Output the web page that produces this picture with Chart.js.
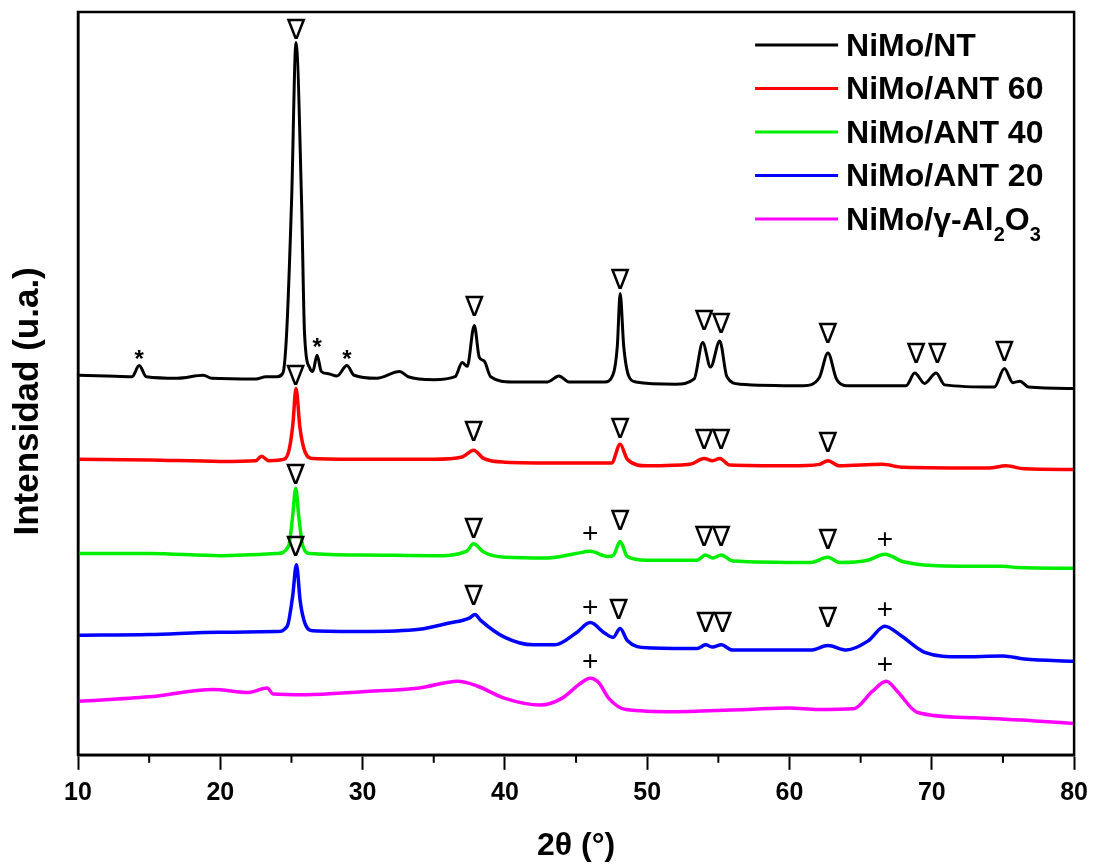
<!DOCTYPE html>
<html>
<head>
<meta charset="utf-8">
<script src="https://cdn.jsdelivr.net/npm/chart.js@4.4.1/dist/chart.umd.min.js"></script>
<style>
  html, body { margin: 0; padding: 0; background: #fff; }
  #wrap { width: 1096px; height: 864px; }
</style>
</head>
<body>
<div id="wrap"><canvas id="myChart"></canvas></div>
<script>
// XRD patterns, [2theta, intensity] (curves already offset vertically)
var serieNT = [[10,51.1],[12,51.0],[13.8,50.9],[14.3,52.4],[14.8,50.9],[17,50.7],[18.8,51.1],[19.4,50.7],[22.5,50.6],[23.2,50.9],[24.0,50.9],[24.4,51.4],[24.66,56.7],[25.01,74.6],[25.32,95.9],[25.71,74.6],[25.92,56.7],[26.3,52.0],[26.5,51.6],[26.8,53.8],[27.1,51.6],[27.6,51.3],[28.2,51.0],[28.9,52.4],[29.4,51.1],[31,50.7],[32.6,51.6],[33.2,50.9],[35,50.5],[36.5,50.9],[37.0,52.8],[37.35,52.3],[37.85,57.8],[38.2,53.5],[38.55,53.0],[39.0,50.9],[40.5,50.2],[43.0,50.2],[43.8,51.0],[44.5,50.2],[47.0,50.2],[47.6,51.2],[47.9,55.0],[48.1,62.1],[48.35,55.0],[48.7,51.0],[49.2,50.2],[52.0,49.9],[53.3,50.6],[53.9,55.5],[54.45,52.2],[55.1,55.7],[55.6,50.9],[56.5,49.9],[61.0,49.7],[62.1,50.8],[62.7,54.1],[63.3,50.6],[64.0,49.7],[68.2,49.7],[68.8,51.4],[69.5,50.0],[70.3,51.4],[70.9,49.8],[74.4,49.5],[75.1,52.0],[75.7,50.1],[76.2,50.3],[76.8,49.5],[80,49.3]];
var serieANT60 = [[10,39.8],[15,39.7],[20,39.5],[22.5,39.6],[22.9,40.2],[23.4,39.6],[24.5,39.8],[24.85,41.2],[25.1,44.5],[25.32,49.3],[25.6,44.0],[25.95,40.8],[26.5,39.9],[30,39.8],[35,39.8],[37.0,40.1],[37.8,41.0],[38.5,39.9],[40,39.4],[44,39.3],[47.5,39.3],[48.1,41.8],[48.6,39.8],[50,38.9],[53,39.1],[54.0,39.9],[54.6,39.6],[55.1,39.9],[55.8,39.0],[60,38.9],[62.1,39.1],[62.7,39.6],[63.5,38.9],[66.5,39.1],[68,38.7],[74,38.6],[75.2,38.9],[76.5,38.5],[80,38.4]];
var serieANT40 = [[10,27.1],[15,27.1],[20,26.8],[24,27.1],[24.8,28.1],[25.08,32.0],[25.3,35.9],[25.52,32.0],[25.8,28.1],[26.3,27.1],[30,26.9],[35,26.8],[37.3,27.4],[37.8,28.4],[38.5,27.3],[40,26.6],[43,26.5],[45,27.1],[46,27.4],[47.2,26.7],[47.6,26.8],[48.1,28.7],[48.6,26.7],[50,26.2],[53.5,26.2],[54.1,26.9],[54.6,26.5],[55.2,26.9],[56,26.1],[61.5,25.9],[62.7,26.6],[63.5,25.9],[65.5,26.2],[66.7,27.0],[68,26.0],[72,25.4],[75,25.4],[76,25.2],[80,25.1]];
var serieANT20 = [[10,16.1],[15,16.2],[20,16.5],[24,16.6],[24.7,17.3],[25.08,21.3],[25.35,25.6],[25.62,20.6],[25.95,17.7],[26.5,16.7],[30,16.6],[34,16.9],[36,17.7],[37.5,18.4],[37.9,18.9],[38.3,18.1],[40,15.8],[42,14.8],[43.5,14.8],[45,16.4],[46,17.8],[47,16.4],[47.6,15.8],[48.1,17.0],[48.6,15.4],[50,14.4],[53.5,14.3],[54.1,14.8],[54.6,14.5],[55.2,14.8],[56,14.1],[61.5,14.1],[62.7,14.7],[64,14.1],[65.5,15.3],[66.7,17.3],[67.8,16.1],[69.5,13.8],[72,13.2],[75,13.3],[76.5,12.9],[80,12.6]];
var serieAl2O3 = [[10,7.2],[15,7.8],[19.5,8.8],[22,8.4],[23.3,9.0],[23.7,8.2],[26,8.1],[30,8.5],[34,9.0],[36.7,9.9],[38,9.3],[40,7.6],[42.5,6.7],[44,7.6],[45.3,9.6],[46.0,10.3],[46.6,9.7],[47.3,7.6],[48.5,6.1],[52,5.8],[57,6.1],[60,6.3],[62,6.1],[64.5,6.2],[65.8,8.5],[66.8,9.9],[67.6,8.5],[69,5.7],[73,5.0],[77,4.6],[80,4.2]];

var labels = ["NiMo/NT", "NiMo/ANT 60", "NiMo/ANT 40", "NiMo/ANT 20", "NiMo/γ-Al2O3"];
var colores = ["#000000", "#ff0000", "#00ee00", "#0000ff", "#ff00ff"];

// peak markers
var marcaTri = [[25.32,97.3],[37.85,60.1],[48.1,63.7],[54.0,58.2],[55.2,57.8],[62.7,56.4],[68.9,53.7],[70.4,53.7],[75.1,54.0],
  [25.3,50.8],[37.8,43.2],[48.1,43.6],[54.0,42.1],[55.2,42.1],[62.7,41.8],
  [25.3,37.5],[37.8,30.1],[48.1,31.2],[54.0,29.1],[55.2,29.1],[62.7,28.7],
  [25.3,27.8],[37.8,21.1],[48.0,19.3],[54.1,17.5],[55.3,17.5],[62.7,18.2]];
var marcaStar = [[14.3,53.7],[26.8,55.3],[28.9,53.7]];
var marcaPlus = [[46,29.7],[66.7,28.9],[46,19.7],[66.7,19.4],[46,12.4],[66.7,12.0]];

var xTicksMenores = [15, 25, 35, 45, 55, 65, 75];

function toXY(arr) {
    return arr.map(function (p) { return { x: p[0], y: p[1] }; });
}

var series = [serieNT, serieANT60, serieANT40, serieANT20, serieAl2O3];
var datasets = series.map(function (s, i) {
    return {
        label: labels[i],
        data: toXY(s),
        borderColor: colores[i],
        borderWidth: i == 0 ? 3 : 3.5,
        pointRadius: 0,
        fill: false,
        cubicInterpolationMode: 'monotone'
    };
});

var FONT = "'Liberation Sans', Arial, sans-serif";

var marcasPlugin = {
    id: 'marcas',
    afterDatasetsDraw: function (chart) {
        var c = chart.ctx, xs = chart.scales.x, ys = chart.scales.y, a = chart.chartArea;
        c.save();
        c.fillStyle = '#000';
        c.textAlign = 'center';
        c.textBaseline = 'middle';
        c.font = "28px 'DejaVu Sans'";
        marcaTri.forEach(function (p) {
            c.fillText('∇', xs.getPixelForValue(p[0]), ys.getPixelForValue(p[1]));
        });
        c.font = "bold 24px " + FONT;
        marcaStar.forEach(function (p) {
            c.fillText('*', xs.getPixelForValue(p[0]), ys.getPixelForValue(p[1]) + 4);
        });
        c.font = "28px " + FONT;
        marcaPlus.forEach(function (p) {
            c.fillText('+', xs.getPixelForValue(p[0]), ys.getPixelForValue(p[1]));
        });

        // frame
        c.strokeStyle = '#000';
        c.lineWidth = 2.5;
        c.strokeRect(a.left, a.top, a.right - a.left, a.bottom - a.top);

        // minor ticks
        c.lineWidth = 2;
        xTicksMenores.forEach(function (v) {
            var px = xs.getPixelForValue(v);
            c.beginPath();
            c.moveTo(px, a.bottom);
            c.lineTo(px, a.bottom + 8);
            c.stroke();
        });

        // y title
        c.save();
        c.translate(28, (a.top + a.bottom) / 2 + 18);
        c.rotate(-Math.PI / 2);
        c.textAlign = 'center';
        c.textBaseline = 'middle';
        c.font = "bold 35px " + FONT;
        c.fillText('Intensidad (u.a.)', 0, 0);
        c.restore();

        // legend
        var lx0 = a.right - 319, lx1 = a.right - 236, tx = a.right - 228;
        for (var i = 0; i < labels.length; i++) {
            var y = a.top + 33 + i * 43.5;
            c.strokeStyle = colores[i];
            c.lineWidth = 3;
            c.beginPath();
            c.moveTo(lx0, y);
            c.lineTo(lx1, y);
            c.stroke();
            c.fillStyle = '#000';
            c.textAlign = 'left';
            c.textBaseline = 'middle';
            c.font = "bold 32px " + FONT;
            if (i < 4) {
                c.fillText(labels[i], tx, y + 2);
            } else {
                var parts = [["NiMo/γ-Al", 0], ["2", 1], ["O", 0], ["3", 1]];
                var cx = tx;
                parts.forEach(function (pt) {
                    c.font = pt[1] ? "bold 20px " + FONT : "bold 32px " + FONT;
                    c.fillText(pt[0], cx, y + 2 + (pt[1] ? 14 : 0));
                    cx += c.measureText(pt[0]).width;
                });
            }
        }
        c.restore();
    }
};

new Chart(document.getElementById('myChart'), {
    type: 'line',
    data: { datasets: datasets },
    options: {
        responsive: true,
        maintainAspectRatio: false,
        animation: false,
        layout: { padding: { left: 78, right: 19, top: 12, bottom: 0 } },
        plugins: {
            legend: { display: false },
            tooltip: { enabled: false }
        },
        scales: {
            x: {
                type: 'linear',
                min: 10,
                max: 80,
                border: { display: true, color: '#000', width: 2.5 },
                grid: { drawOnChartArea: false, drawTicks: true, tickLength: 15, color: '#000', tickWidth: 2 },
                ticks: {
                    stepSize: 10,
                    padding: 8,
                    color: '#000',
                    font: { family: FONT, size: 25, weight: 'bold' }
                },
                title: {
                    display: true,
                    text: '2θ (°)',
                    color: '#000',
                    font: { family: FONT, size: 32, weight: 'bold', lineHeight: 1.1 },
                    padding: { top: 13, bottom: 0 }
                }
            },
            y: {
                min: 0,
                max: 100,
                border: { display: true, color: '#000', width: 2.5 },
                grid: { display: false, drawTicks: false },
                ticks: { display: false },
                title: { display: false }
            }
        }
    },
    plugins: [marcasPlugin]
});
</script>
</body>
</html>
